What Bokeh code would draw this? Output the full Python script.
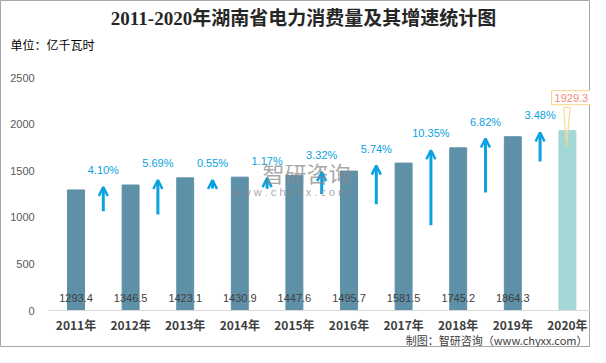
from bokeh.plotting import figure
from bokeh.models import (Range1d, FixedTicker, Label, Arrow, OpenHead,
                          ColumnDataSource)
from bokeh.core.properties import value
from bokeh.embed import file_html
from bokeh.resources import INLINE

# ---------------- data ----------------
years = ["2011年", "2012年", "2013年", "2014年", "2015年",
         "2016年", "2017年", "2018年", "2019年", "2020年"]
consumption = [1293.4, 1346.5, 1423.1, 1430.9, 1447.6,
               1495.7, 1581.5, 1745.2, 1864.3, 1929.3]
growth_labels = ["4.10%", "5.69%", "0.55%", "1.17%", "3.32%",
                 "5.74%", "10.35%", "6.82%", "3.48%"]
# arrow tip / tail levels (in axis units)
arrow_tips = [1325, 1400, 1400, 1420, 1485, 1555, 1720, 1845, 1910]
arrow_tails = [1065, 1030, 1310, 1305, 1250, 1140, 915, 1265, 1600]
y_ticks = [0, 500, 1000, 1500, 2000, 2500]

BAR = "#5E90A7"
BAR_LAST = "#A3D8D6"
BLUE = "#0AA2E0"

W, H = 590, 347
centers = [i + 0.5 for i in range(len(years))]
arrow_x = [i + 1 for i in range(len(growth_labels))]

# frame covers the whole canvas; axes are pinned inside it
X0_PX, XPX = 48.2, 54.6          # pixel of x=0, pixels per category
Y0_PX, YTOP_PX = 310.0, 77.0     # pixel of y=0 and of y=2500
ypx = (Y0_PX - YTOP_PX) / y_ticks[-1]
x_range = Range1d(-X0_PX / XPX, (W - X0_PX) / XPX)
y_range = Range1d(-(H - Y0_PX) / ypx, Y0_PX / ypx)

p = figure(width=W, height=H, output_backend="svg", toolbar_location=None,
           x_range=x_range, y_range=y_range,
           min_border_left=0, min_border_right=0,
           min_border_top=0, min_border_bottom=0)
p.outline_line_color = "#A6A6A6"
p.outline_line_width = 1
p.grid.visible = False
p.background_fill_color = "white"
p.border_fill_color = "white"

# axes
p.xaxis.fixed_location = 0
p.xaxis.bounds = (0, len(years))
p.xaxis.ticker = FixedTicker(ticks=centers)
p.xaxis.major_label_overrides = {c: y for c, y in zip(centers, years)}
p.xaxis.axis_line_color = "#D9D9D9"
p.xaxis.major_tick_line_color = None
p.xaxis.minor_tick_line_color = None
p.xaxis.major_tick_out = 0
p.xaxis.major_tick_in = 0
p.xaxis.major_label_standoff = 5
p.xaxis.major_label_text_font = "Noto Sans CJK SC"
p.xaxis.major_label_text_font_style = "bold"
p.xaxis.major_label_text_font_size = "12px"
p.xaxis.major_label_text_color = "#404040"

p.yaxis.fixed_location = 0
p.yaxis.ticker = FixedTicker(ticks=y_ticks)
p.yaxis.axis_line_color = None
p.yaxis.major_tick_line_color = None
p.yaxis.minor_tick_line_color = None
p.yaxis.major_tick_out = 0
p.yaxis.major_tick_in = 0
p.yaxis.major_label_standoff = 14
p.yaxis.major_label_text_font = "Liberation Sans"
p.yaxis.major_label_text_font_size = "11px"
p.yaxis.major_label_text_color = "#595959"

# bars
bar_src = ColumnDataSource(dict(
    x=centers, top=consumption,
    color=[BAR] * (len(years) - 1) + [BAR_LAST]))
p.vbar(x="x", top="top", width=0.31, color="color", source=bar_src)

# value labels inside bars (last one is in the callout)
p.text(x=centers[:-1], y=[0] * (len(years) - 1),
       text=[f"{v:.1f}" for v in consumption[:-1]],
       y_offset=-13, text_align="center", text_baseline="middle",
       text_font=value("Liberation Sans"), text_font_size="11px",
       text_color="#404040")

# callout for last value
last = consumption[-1]
p.patch(x=[centers[-1] - 0.07, centers[-1] + 0.05, centers[-1] - 0.015],
        y=[last + 250, last + 250, last - 170],
        fill_color="white", fill_alpha=0.35, line_color="#F7D48A", line_width=1)
p.add_layout(Label(x=centers[-1], y=last, x_offset=4, y_offset=33,
                   text=f"{last:.1f}", text_align="center",
                   text_baseline="middle",
                   text_font="Liberation Sans", text_font_size="11px",
                   text_color="#F08A7E", background_fill_color="white",
                   border_line_color="#F7D48A", border_line_width=1,
                   padding=3))

# growth arrows
arr_src = ColumnDataSource(dict(x=arrow_x, tip=arrow_tips, tail=arrow_tails))
p.add_layout(Arrow(x_start="x", y_start="tail", x_end="x", y_end="tip",
                   source=arr_src, line_color=BLUE, line_width=3,
                   end=OpenHead(size=9, line_color=BLUE, line_width=2.5)))
p.text(x=arrow_x, y=arrow_tips, text=growth_labels, y_offset=-17,
       text_align="center", text_baseline="middle",
       text_font=value("Liberation Sans"), text_font_size="11px",
       text_color=BLUE)

# watermark (screen units measured from the canvas bottom-left)
p.add_layout(Label(x=306, y=H - 171, x_units="screen", y_units="screen",
                   text="智研咨询", text_align="center", text_baseline="middle",
                   text_font="Noto Sans CJK SC", text_font_size="22px",
                   text_color="#8A8A8A", text_alpha=0.75))
p.add_layout(Label(x=289, y=H - 191, x_units="screen", y_units="screen",
                   text="w w w . c h y x x . c o m", text_align="center",
                   text_baseline="middle",
                   text_font="Liberation Sans", text_font_size="11px",
                   text_color="#8A8A8A", text_alpha=0.75))

# titles / notes
p.add_layout(Label(x=303, y=H - 18, x_units="screen", y_units="screen",
                   text="2011-2020年湖南省电力消费量及其增速统计图",
                   text_align="center", text_baseline="middle",
                   text_font="Liberation Serif, Noto Sans CJK SC",
                   text_font_style="bold", text_font_size="19px",
                   text_color="#262626"))
p.add_layout(Label(x=10, y=H - 44, x_units="screen", y_units="screen",
                   text="单位：亿千瓦时", text_align="left",
                   text_baseline="middle",
                   text_font="Noto Sans CJK SC", text_font_size="12px",
                   text_color="#000000"))
p.add_layout(Label(x=W - 3, y=H - 339, x_units="screen", y_units="screen",
                   text="制图：智研咨询（www.chyxx.com）", text_align="right",
                   text_baseline="middle",
                   text_font="Noto Sans CJK SC", text_font_size="11px",
                   text_color="#404040"))

open("out.html", "w").write(file_html(p, INLINE))
